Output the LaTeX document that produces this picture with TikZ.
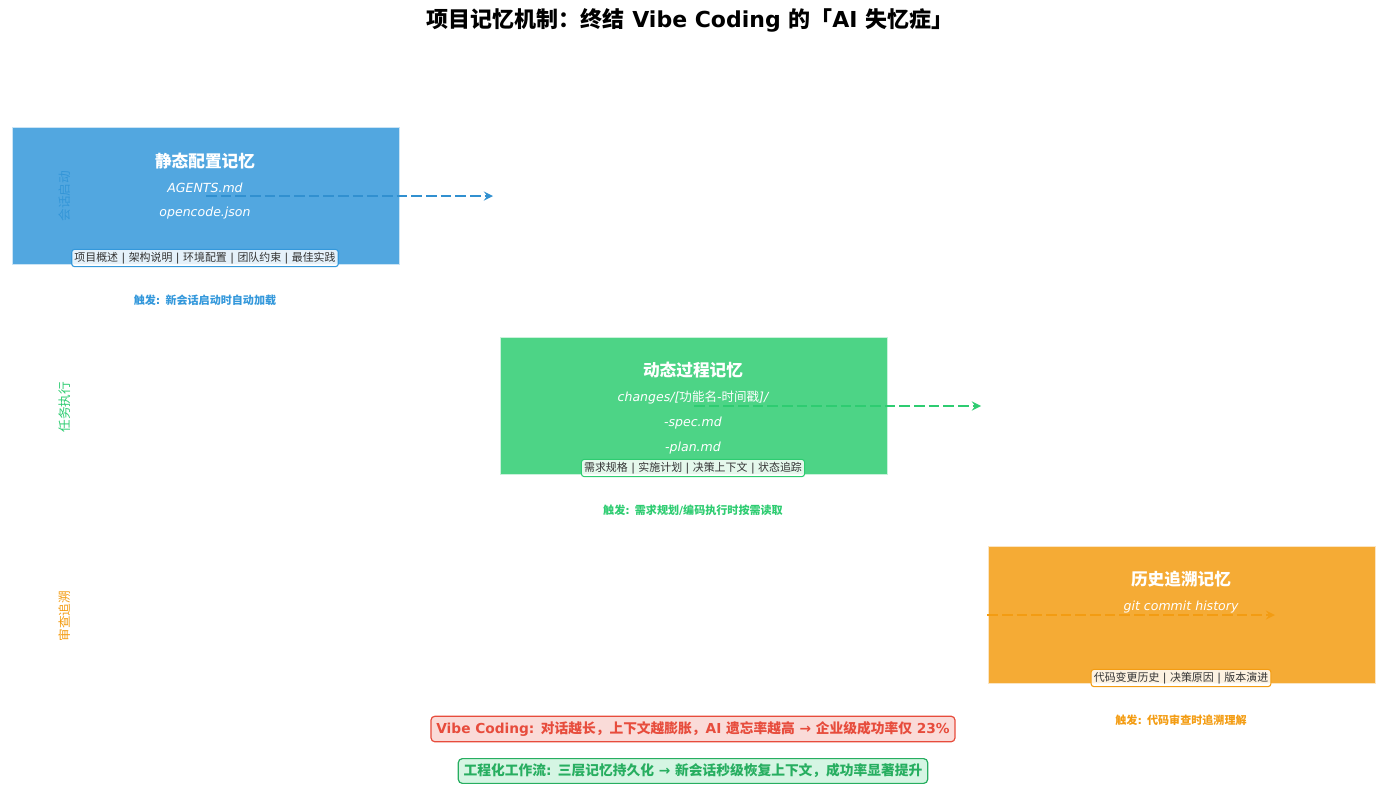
\documentclass[tikz,border=0pt]{standalone}
\usepackage{fontspec}
\setmainfont{DejaVu Sans}
\newfontfamily\cjk{Noto Sans CJK SC}
\newcommand{\zh}[1]{{\cjk #1}}
\usepackage{tikz}
\usepackage{xcolor}
\usetikzlibrary{arrows.meta}

\definecolor{memBlue}{HTML}{3498DB}
\definecolor{memGreen}{HTML}{2ECC71}
\definecolor{memOrange}{HTML}{F39C12}
\definecolor{warnRed}{HTML}{E74C3C}
\definecolor{goodGreen}{HTML}{27AE60}
\definecolor{tagText}{HTML}{333333}

\begin{document}
\begin{tikzpicture}[
        x=0.75pt, y=-0.75pt,
        memory/.style={rectangle, draw=white, draw opacity=0.7, line width=1pt, fill opacity=0.85,
            minimum width=291pt, minimum height=103pt, inner sep=0pt},
        boxtitle/.style={text=white, font=\fontsize{12.5}{14}\selectfont\bfseries},
        filename/.style={text=white, font=\fontsize{9.4}{11}\selectfont\itshape},
        tag/.style={rectangle, rounded corners=2pt, fill=white, fill opacity=0.85, text opacity=1,
            line width=0.8pt, text=tagText, inner sep=2pt, font=\fontsize{8.2}{10}\selectfont},
        trigger/.style={font=\fontsize{8.3}{10}\selectfont\bfseries},
        side/.style={rotate=90, font=\fontsize{9.5}{11}\selectfont},
        flow/.style={->, dash pattern=on 8pt off 3pt, line width=2pt},
        note/.style={rectangle, rounded corners=3pt, line width=0.9pt, inner xsep=4pt, inner ysep=4pt,
            font=\fontsize{10.3}{12}\selectfont\bfseries},
        >=stealth
    ]
        \useasboundingbox (0,0) rectangle (1387,789);

        % Title
        \node[font=\fontsize{16.5}{19}\selectfont\bfseries] (title) at (690,20)
            {\zh{项目记忆机制：终结} Vibe Coding \zh{的「}AI \zh{失忆症」}};

        % Side labels
        \node[side, text=memBlue!90!black] (sideStatic) at (65,196) {\zh{会话启动}};
        \node[side, text=memGreen] (sideDynamic) at (65,407) {\zh{任务执行}};
        \node[side, text=memOrange] (sideHistory) at (65,616) {\zh{审查追溯}};

        % Static layer
        \node[memory, fill=memBlue] (static) at (206,196) {};
        \node[boxtitle] (staticTitle) at (205,161) {\zh{静态配置记忆}};
        \node[filename] (staticFileA) at (205,188) {AGENTS.md};
        \node[filename] (staticFileB) at (205,213) {opencode.json};
        \node[tag, draw=memBlue] (staticTag) at (205,258)
            {\zh{项目概述} | \zh{架构说明} | \zh{环境配置} | \zh{团队约束} | \zh{最佳实践}};
        \node[trigger, text=memBlue] (staticTrigger) at (205,300) {\zh{触发}: \zh{新会话启动时自动加载}};
        \coordinate (staticEnd) at (493,196);
        \draw[flow, memBlue!95!black] (static.center) -- (staticEnd);

        % Dynamic layer
        \node[memory, fill=memGreen] (dynamic) at (694,406) {};
        \node[boxtitle] (dynamicTitle) at (693,370) {\zh{动态过程记忆}};
        \node[filename] (dynamicFileA) at (693,398) {changes/[\zh{功能名}-\zh{时间戳}]/};
        \node[filename] (dynamicFileB) at (693,423) {-spec.md};
        \node[filename] (dynamicFileC) at (693,448) {-plan.md};
        \node[tag, draw=memGreen] (dynamicTag) at (693,468)
            {\zh{需求规格} | \zh{实施计划} | \zh{决策上下文} | \zh{状态追踪}};
        \node[trigger, text=memGreen] (dynamicTrigger) at (693,510) {\zh{触发}: \zh{需求规划}/\zh{编码执行时按需读取}};
        \coordinate (dynamicEnd) at (981,406);
        \draw[flow, memGreen] (dynamic.center) -- (dynamicEnd);

        % History layer
        \node[memory, fill=memOrange] (history) at (1182,615) {};
        \node[boxtitle] (historyTitle) at (1181,579) {\zh{历史追溯记忆}};
        \node[filename] (historyFile) at (1181,607) {git commit history};
        \node[tag, draw=memOrange] (historyTag) at (1181,678)
            {\zh{代码变更历史} | \zh{决策原因} | \zh{版本演进}};
        \node[trigger, text=memOrange] (historyTrigger) at (1181,720) {\zh{触发}: \zh{代码审查时追溯理解}};
        \coordinate (historyEnd) at (1275,615);
        \draw[flow, memOrange] (history.west) -- (historyEnd);

        % Bottom notes
        \node[note, draw=warnRed, fill=warnRed!20, text=warnRed] (vibeNote) at (693,729)
            {Vibe Coding: \zh{对话越长，上下文越膨胀，}AI \zh{遗忘率越高} → \zh{企业级成功率仅} 23\%};
        \node[note, draw=goodGreen, fill=memGreen!20, text=goodGreen] (flowNote) at (693,771)
            {\zh{工程化工作流}: \zh{三层记忆持久化} → \zh{新会话秒级恢复上下文，成功率显著提升}};
    \end{tikzpicture}
\end{document}
